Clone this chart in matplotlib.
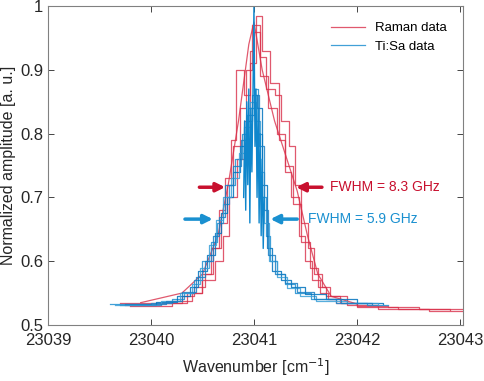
import numpy as np
import matplotlib
matplotlib.use('Agg')
import matplotlib.pyplot as plt

plt.rcParams['font.family'] = ['Liberation Sans', 'DejaVu Sans']

# Raman traces (step data)
r1_x = [23039.75, 23040.10, 23040.30, 23040.42, 23040.52, 23040.60, 23040.68, 23040.74, 23040.80, 23040.86,
        23040.92, 23040.98, 23041.06, 23041.12, 23041.20, 23041.26, 23041.34, 23041.40, 23041.46, 23041.52,
        23041.58, 23041.66, 23041.74, 23041.84, 23042.0, 23042.3, 23042.6, 23043.05]
r1_y = [0.532, 0.535, 0.545, 0.56, 0.58, 0.62, 0.66, 0.72, 0.78, 0.84,
        0.90, 0.97, 0.92, 0.87, 0.86, 0.82, 0.78, 0.72, 0.66, 0.62,
        0.58, 0.56, 0.545, 0.535, 0.53, 0.528, 0.525, 0.523]
r2_x = [23039.8, 23040.2, 23040.4, 23040.5, 23040.62, 23040.7, 23040.76, 23040.84, 23040.9, 23040.96,
        23041.02, 23041.08, 23041.16, 23041.24, 23041.3, 23041.36, 23041.44, 23041.5, 23041.56, 23041.64,
        23041.72, 23041.8, 23042.0, 23042.4, 23042.9]
r2_y = [0.53, 0.537, 0.55, 0.57, 0.60, 0.64, 0.70, 0.76, 0.82, 0.91,
        0.985, 0.93, 0.88, 0.79, 0.74, 0.70, 0.64, 0.60, 0.57, 0.55,
        0.54, 0.535, 0.528, 0.525, 0.524]
r3_x = [23039.7, 23040.0, 23040.35, 23040.5, 23040.58, 23040.66, 23040.72, 23040.78, 23040.83, 23040.9,
        23040.96, 23041.0, 23041.06, 23041.14, 23041.22, 23041.3, 23041.38, 23041.46, 23041.54, 23041.62,
        23041.7, 23041.9, 23042.2, 23042.7, 23043.05]
r3_y = [0.534, 0.535, 0.55, 0.58, 0.62, 0.68, 0.73, 0.79, 0.90, 0.86,
        0.93, 0.96, 0.89, 0.84, 0.80, 0.75, 0.69, 0.63, 0.59, 0.56,
        0.545, 0.532, 0.525, 0.522, 0.52]
# Raman trace without steps
r4_x = [23039.9, 23040.3, 23040.5, 23040.65, 23040.75, 23040.85, 23040.95, 23041.0, 23041.08, 23041.2,
        23041.32, 23041.42, 23041.52, 23041.62, 23041.75, 23042.0]
r4_y = [0.535, 0.55, 0.58, 0.64, 0.72, 0.82, 0.94, 0.975, 0.90, 0.82,
        0.76, 0.71, 0.64, 0.58, 0.545, 0.533]

# Ti:Sa traces (step data)
b1_x = [23039.6, 23040.0, 23040.2, 23040.32, 23040.42, 23040.5, 23040.58, 23040.64, 23040.70, 23040.76,
        23040.82, 23040.88, 23040.94, 23041.0, 23041.04, 23041.08, 23041.12, 23041.16, 23041.22, 23041.3,
        23041.4, 23041.55, 23041.8, 23042.1, 23042.3]
b1_y = [0.533, 0.535, 0.54, 0.55, 0.57, 0.60, 0.63, 0.66, 0.69, 0.72,
        0.76, 0.80, 0.84, 0.87, 0.80, 0.70, 0.64, 0.60, 0.58, 0.565,
        0.55, 0.54, 0.535, 0.532, 0.532]
b2_x = [23039.7, 23040.05, 23040.25, 23040.38, 23040.46, 23040.54, 23040.62, 23040.68, 23040.74, 23040.80,
        23040.86, 23040.92, 23040.98, 23041.03, 23041.08, 23041.13, 23041.18, 23041.26, 23041.36, 23041.5,
        23041.7, 23042.0, 23042.25]
b2_y = [0.532, 0.536, 0.545, 0.56, 0.585, 0.61, 0.645, 0.675, 0.70, 0.74,
        0.78, 0.82, 0.86, 0.84, 0.72, 0.62, 0.585, 0.57, 0.56, 0.548,
        0.54, 0.534, 0.533]
b3_x = [23039.65, 23040.1, 23040.28, 23040.4, 23040.48, 23040.56, 23040.63, 23040.7, 23040.78, 23040.85,
        23040.9, 23040.96, 23041.02, 23041.06, 23041.1, 23041.15, 23041.22, 23041.32, 23041.45, 23041.6,
        23041.9, 23042.2]
b3_y = [0.531, 0.537, 0.55, 0.565, 0.59, 0.625, 0.665, 0.70, 0.73, 0.77,
        0.81, 0.85, 0.82, 0.74, 0.66, 0.60, 0.575, 0.558, 0.545, 0.538,
        0.534, 0.532]
b4_x = [23039.75, 23040.15, 23040.3, 23040.44, 23040.52, 23040.6, 23040.66, 23040.72, 23040.8, 23040.87,
        23040.93, 23041.0, 23041.05, 23041.1, 23041.14, 23041.2, 23041.3, 23041.42, 23041.58, 23041.85,
        23042.15]
b4_y = [0.533, 0.538, 0.552, 0.575, 0.60, 0.64, 0.67, 0.72, 0.75, 0.79,
        0.83, 0.86, 0.78, 0.68, 0.61, 0.58, 0.566, 0.552, 0.54, 0.534,
        0.533]
# spiky centre of the Ti:Sa scans
sp_x = [23040.90, 23040.91, 23040.92, 23040.93, 23040.94, 23040.95, 23040.96, 23040.97, 23040.98, 23040.99,
        23041.0, 23041.01, 23041.02, 23041.03, 23041.04, 23041.05, 23041.06, 23041.07, 23041.08, 23041.09,
        23041.10]
sp_y = [0.70, 0.82, 0.68, 0.85, 0.72, 0.87, 0.66, 0.84, 0.74, 0.86,
        1.0, 0.78, 0.87, 0.70, 0.84, 0.66, 0.80, 0.64, 0.76, 0.62,
        0.70]

red = '#d9304a'
blues = ['#1f8fd0', '#0072bd', '#3aa0d8', '#1a7fc4']

fig = plt.figure(figsize=(4.84, 3.81), dpi=100)
ax = fig.add_axes([0.0992, 0.147, 0.8574, 0.837])

ax.plot(r1_x, r1_y, color=red, lw=0.9, alpha=0.8, drawstyle='steps-post', label='Raman data')
ax.plot(r2_x, r2_y, color=red, lw=0.9, alpha=0.8, drawstyle='steps-post')
ax.plot(r3_x, r3_y, color=red, lw=0.9, alpha=0.8, drawstyle='steps-post')
ax.plot(r4_x, r4_y, color=red, lw=0.9, alpha=0.8)

bx = [b1_x, b2_x, b3_x, b4_x]
by = [b1_y, b2_y, b3_y, b4_y]
for i in range(4):
    ax.plot(bx[i], by[i], color=blues[i], lw=0.9, alpha=0.85, drawstyle='steps-post',
            label='Ti:Sa data' if i == 0 else None)
ax.plot(sp_x, sp_y, color='#0f86cc', lw=1.0)

# FWHM arrows
ac_r = '#c8102e'
ac_b = '#1a90d0'
ap_r = dict(arrowstyle='-|>', lw=2.5, color=ac_r, mutation_scale=13, shrinkA=0, shrinkB=0)
ap_b = dict(arrowstyle='-|>', lw=2.5, color=ac_b, mutation_scale=13, shrinkA=0, shrinkB=0)
ax.annotate('', xy=(23040.72, 0.716), xytext=(23040.47, 0.716), arrowprops=ap_r)
ax.annotate('', xy=(23041.41, 0.716), xytext=(23041.66, 0.716), arrowprops=ap_r)
ax.annotate('', xy=(23040.60, 0.666), xytext=(23040.33, 0.666), arrowprops=ap_b)
ax.annotate('', xy=(23041.16, 0.666), xytext=(23041.42, 0.666), arrowprops=ap_b)
ax.text(23041.74, 0.716, 'FWHM = 8.3 GHz', color=ac_r, fontsize=10, va='center')
ax.text(23041.52, 0.666, 'FWHM = 5.9 GHz', color=ac_b, fontsize=10, va='center')

ax.set_xlim(23039, 23043.03)
ax.set_ylim(0.5, 1.0)
ax.set_xticks([23039, 23040, 23041, 23042, 23043])
ax.set_xticklabels(['23039', '23040', '23041', '23042', '23043'])
ax.set_yticks([0.5, 0.6, 0.7, 0.8, 0.9, 1.0])
ax.set_yticklabels(['0.5', '0.6', '0.7', '0.8', '0.9', '1'])
ax.tick_params(direction='in', top=True, right=True, labelsize=12, colors='#262626', length=4, width=0.6)
ax.tick_params(axis='x', pad=6)
for s in ax.spines.values():
    s.set_color('#808080')
    s.set_linewidth(0.8)
ax.set_xlabel('Wavenumber [cm$^{-1}$]', fontsize=11.5, color='#262626', labelpad=6)
ax.set_ylabel('Normalized amplitude [a. u.]', fontsize=11.5, color='#262626', labelpad=3)

ax.legend(loc='upper right', frameon=False, fontsize=9.5, handlelength=2.6, borderaxespad=0.8)

fig.savefig('out.png', dpi=100)
